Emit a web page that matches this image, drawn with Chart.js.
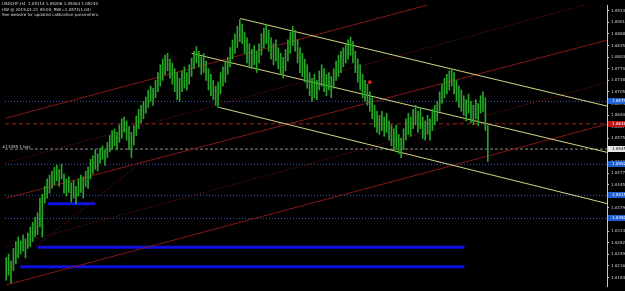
<!DOCTYPE html>
<html>
<head>
<meta charset="utf-8">
<script src="https://cdn.jsdelivr.net/npm/chart.js@4/dist/chart.umd.min.js"></script>
<style>
html,body{margin:0;padding:0;background:#000;overflow:hidden;}
canvas{display:block;}
</style>
</head>
<body>
<canvas id="c" width="625" height="291"></canvas>
<script>
// ---- data (USDCHF H4 bars: high / low per bar) ----
const barHigh = [1.0240,1.0250,1.0230,1.0266,1.0285,1.0298,1.0287,1.0304,1.0293,1.0309,
1.0326,1.0339,1.0353,1.0366,1.0407,1.0418,1.0440,1.0461,1.0472,1.0483,
1.0494,1.0499,1.0488,1.0502,1.0475,1.0461,1.0467,1.0450,1.0456,1.0440,
1.0461,1.0472,1.0467,1.0483,1.0494,1.0516,1.0526,1.0543,1.0532,1.0548,
1.0554,1.0543,1.0564,1.0583,1.0597,1.0602,1.0592,1.0613,1.0630,1.0635,
1.0624,1.0608,1.0592,1.0611,1.0638,1.0657,1.0668,1.0679,1.0692,1.0711,
1.0722,1.0716,1.0738,1.0760,1.0782,1.0798,1.0809,1.0814,1.0798,1.0787,
1.0771,1.0760,1.0744,1.0765,1.0776,1.0760,1.0782,1.0801,1.0820,1.0833,
1.0820,1.0803,1.0814,1.0792,1.0771,1.0755,1.0738,1.0722,1.0733,1.0760,
1.0776,1.0792,1.0803,1.0830,1.0852,1.0869,1.0890,1.0909,1.0896,1.0874,
1.0858,1.0841,1.0825,1.0836,1.0820,1.0841,1.0869,1.0885,1.0896,1.0879,
1.0858,1.0841,1.0852,1.0830,1.0814,1.0803,1.0825,1.0852,1.0874,1.0890,
1.0879,1.0852,1.0830,1.0814,1.0798,1.0782,1.0760,1.0744,1.0755,1.0738,
1.0765,1.0782,1.0771,1.0755,1.0760,1.0749,1.0771,1.0792,1.0809,1.0820,
1.0830,1.0841,1.0852,1.0860,1.0847,1.0820,1.0798,1.0782,1.0755,1.0738,
1.0727,1.0706,1.0689,1.0668,1.0651,1.0640,1.0651,1.0635,1.0646,1.0624,
1.0613,1.0602,1.0613,1.0586,1.0575,1.0602,1.0630,1.0646,1.0635,1.0657,
1.0668,1.0651,1.0662,1.0635,1.0624,1.0640,1.0630,1.0657,1.0668,1.0679,
1.0706,1.0727,1.0744,1.0755,1.0765,1.0771,1.0760,1.0738,1.0722,1.0711,
1.0695,1.0684,1.0700,1.0679,1.0668,1.0684,1.0673,1.0695,1.0706,1.0689,
1.0611];
const barLow = [1.0176,1.0190,1.0168,1.0203,1.0222,1.0239,1.0250,1.0258,1.0239,1.0266,
1.0271,1.0285,1.0298,1.0304,1.0326,1.0298,1.0393,1.0407,1.0421,1.0434,
1.0445,1.0456,1.0440,1.0461,1.0421,1.0413,1.0423,1.0396,1.0407,1.0391,
1.0413,1.0423,1.0407,1.0440,1.0434,1.0461,1.0475,1.0488,1.0483,1.0505,
1.0516,1.0499,1.0521,1.0537,1.0543,1.0554,1.0543,1.0564,1.0575,1.0592,
1.0570,1.0543,1.0521,1.0556,1.0583,1.0602,1.0619,1.0630,1.0646,1.0662,
1.0679,1.0668,1.0689,1.0706,1.0722,1.0738,1.0755,1.0765,1.0744,1.0727,
1.0706,1.0684,1.0679,1.0706,1.0716,1.0711,1.0727,1.0749,1.0771,1.0787,
1.0776,1.0755,1.0760,1.0738,1.0711,1.0695,1.0684,1.0668,1.0662,1.0700,
1.0722,1.0733,1.0755,1.0776,1.0798,1.0814,1.0830,1.0847,1.0841,1.0814,
1.0787,1.0776,1.0771,1.0782,1.0760,1.0787,1.0809,1.0830,1.0841,1.0820,
1.0798,1.0782,1.0792,1.0771,1.0755,1.0744,1.0765,1.0792,1.0814,1.0836,
1.0820,1.0787,1.0760,1.0749,1.0733,1.0716,1.0695,1.0679,1.0689,1.0684,
1.0711,1.0722,1.0706,1.0695,1.0711,1.0689,1.0716,1.0738,1.0749,1.0760,
1.0776,1.0787,1.0798,1.0809,1.0787,1.0760,1.0733,1.0711,1.0689,1.0679,
1.0668,1.0651,1.0630,1.0608,1.0592,1.0586,1.0597,1.0581,1.0592,1.0570,
1.0554,1.0543,1.0548,1.0532,1.0521,1.0543,1.0570,1.0586,1.0581,1.0602,
1.0613,1.0592,1.0602,1.0575,1.0570,1.0586,1.0570,1.0597,1.0613,1.0624,
1.0651,1.0673,1.0689,1.0700,1.0711,1.0722,1.0700,1.0679,1.0662,1.0651,
1.0640,1.0624,1.0646,1.0619,1.0613,1.0630,1.0611,1.0646,1.0651,1.0597,
1.0510];

// right-axis tick labels
const tickValues = [1.09335,1.09010,1.08685,1.08355,1.08030,1.07705,1.07380,1.07055,1.06730,1.06405,
1.06075,1.05750,1.05425,1.05100,1.04775,1.04450,1.04120,1.03795,1.03470,1.03145,1.02820,1.02490,1.02165,1.01840];

// descending channel (bar index, price)
const channelUpper = [[97.2,1.0912],[250,1.0665]];
const channelMiddle = [[77,1.0814],[250,1.0535]];
const channelLower = [[88.5,1.0662],[250,1.0391]];
// ascending red lines
const redSolid1 = [[0,1.0632],[175,1.0950]];
const redSolid2 = [[0,1.0407],[250,1.0852]];
const redSolid3 = [[0,1.0163],[250,1.0616]];
const redDotted1 = [[0,1.0507],[240,1.0950]];
const redDotted2 = [[0,1.0271],[250,1.0733]];
const redDotted3 = [[12.4,1.0271],[53.5,1.0494]];
// horizontal levels
const blueDottedLevels = [1.0679,1.0502,1.0415,1.0350];
const redDashedLevel = 1.0616;
const orderLevel = 1.0545;
// thick blue zones: [fromIndex, toIndex, price]
const blueZones = [[17.3,37.1,1.0391],[13.2,190.3,1.0269],[5.8,190.3,1.0214]];
// red marker
const markerPoint = [151,1.0733];
// highlighted axis labels
const axisBoxes = [
  {v:1.0679, bg:'#1f5fcf', fg:'#ffffff'},
  {v:1.0616, bg:'#c01818', fg:'#ffffff'},
  {v:1.0545, bg:'#e8e8e8', fg:'#000000'},
  {v:1.0502, bg:'#1f5fcf', fg:'#ffffff'},
  {v:1.0415, bg:'#1f5fcf', fg:'#ffffff'},
  {v:1.0350, bg:'#1f5fcf', fg:'#ffffff'}
];
const infoLines = [
  'USDCHF,H4  1.05114 1.05206 1.05063 1.05240',
  'HW @ 2015.01.21 09:00, RWI=1.0574(1.04)',
  'See website for updated calibration parameters.'
];
const orderLabel = '#13495 1 buy';

const X_MIN = -0.5, X_MAX = 249.5;
const RED = '#861616';

function seg(pts, color, dash, width){
  return {type:'line', data: pts.map(p=>({x:p[0], y:p[1]})), borderColor:color,
    borderDash:dash||[], borderWidth:width||1, pointRadius:0, fill:false, tension:0, order:2};
}
const datasets = [];
datasets.push({type:'bar', data: barHigh.map((h,i)=>({x:i, y:[barLow[i], h]})),
  backgroundColor:'#26a626', borderWidth:0, barThickness:1, order:1});
datasets.push(seg(channelUpper,'#d2d682'));
datasets.push(seg(channelMiddle,'#d2d682'));
datasets.push(seg(channelLower,'#d2d682'));
datasets.push(seg(redSolid1,RED));
datasets.push(seg(redSolid2,RED));
datasets.push(seg(redSolid3,RED));
datasets.push(seg(redDotted1,RED,[1,2]));
datasets.push(seg(redDotted2,RED,[1,2]));
datasets.push(seg(redDotted3,RED,[1,2]));
blueDottedLevels.forEach(v=>datasets.push(seg([[X_MIN,v],[X_MAX,v]],'#3a5fb8',[1,2])));
datasets.push(seg([[X_MIN,redDashedLevel],[X_MAX,redDashedLevel]],'#a02020',[4,3]));
datasets.push(seg([[X_MIN,orderLevel],[X_MAX,orderLevel]],'#8c8c8c',[3,2]));
blueZones.forEach(z=>datasets.push(seg([[z[0],z[2]],[z[1],z[2]]],'#1010e0',[],3)));
datasets.push({type:'scatter', data:[{x:markerPoint[0], y:markerPoint[1]}], pointRadius:1.6,
  pointBackgroundColor:'#d02020', pointBorderColor:'#d02020', order:0});

const bgPlugin = {
  id:'bg',
  beforeDraw(chart){
    const ctx = chart.ctx;
    ctx.save(); ctx.fillStyle='#000'; ctx.fillRect(0,0,chart.width,chart.height); ctx.restore();
  },
  afterDraw(chart){
    const ctx = chart.ctx, ys = chart.scales.y, area = chart.chartArea;
    ctx.save();
    ctx.font = '4px "DejaVu Sans"';
    ctx.textBaseline = 'middle';
    axisBoxes.forEach(b=>{
      const y = ys.getPixelForValue(b.v);
      ctx.fillStyle = b.bg;
      ctx.fillRect(area.right+1, Math.round(y)-3, chart.width-area.right, 6);
      ctx.fillStyle = b.fg;
      ctx.fillText(b.v.toFixed(5), area.right+5, y);
    });
    ctx.fillStyle = '#d8d8d8';
    ctx.textBaseline = 'top';
    ctx.font = '4px "DejaVu Sans"';
    infoLines.forEach((t,i)=>ctx.fillText(t, 2, 2 + i*5.5));
    const oy = ys.getPixelForValue(orderLevel);
    ctx.textBaseline = 'bottom';
    ctx.fillStyle = '#c8c8c8';
    ctx.fillText(orderLabel, 2, oy - 0.5);
    ctx.restore();
  }
};

new Chart(document.getElementById('c'), {
  type:'bar',
  data:{datasets},
  plugins:[bgPlugin],
  options:{
    responsive:false, animation:false, devicePixelRatio:1,
    layout:{padding:0},
    plugins:{legend:{display:false}, tooltip:{enabled:false}, title:{display:false}},
    scales:{
      x:{type:'linear', min:X_MIN, max:X_MAX, offset:false, display:false},
      y:{type:'linear', position:'right', min:1.0160, max:1.0950,
        afterBuildTicks(scale){ scale.ticks = tickValues.map(v=>({value:v})); },
        afterFit(scale){ scale.width = 18; },
        border:{display:true, color:'#c8c8c8', width:1},
        grid:{display:true, drawOnChartArea:false, drawTicks:true, tickLength:2, color:'#c8c8c8'},
        ticks:{color:'#d0d0d0', font:{size:4, family:'DejaVu Sans'}, padding:2, autoSkip:false,
          callback:(v)=>Number(v).toFixed(5)}
      }
    }
  }
});
</script>
</body>
</html>
